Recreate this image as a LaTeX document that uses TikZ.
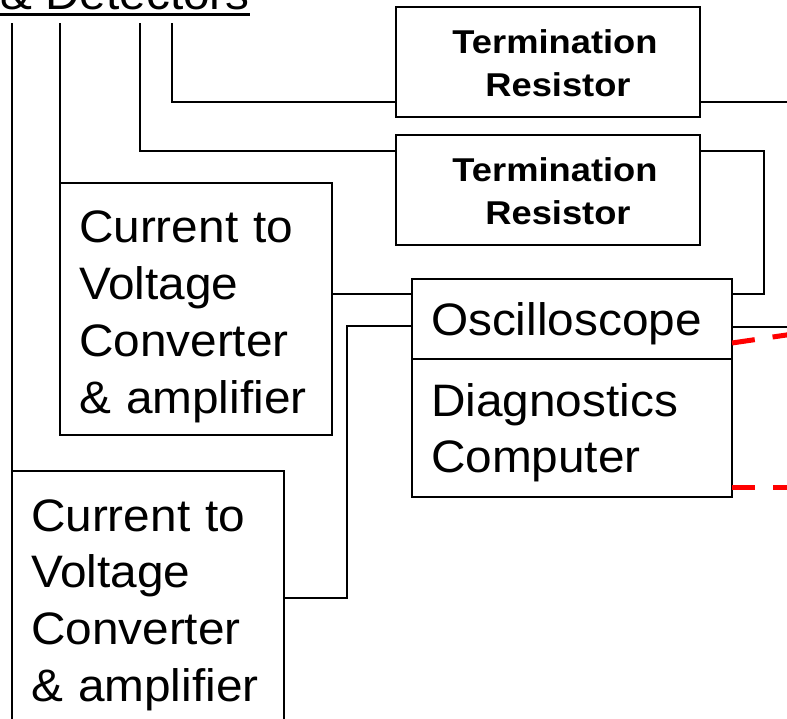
\documentclass[tikz,border=0pt]{standalone}
\usepackage{fontspec}
\setmainfont{Liberation Sans}
\newfontfamily\plainfont[FakeStretch=1.05]{Liberation Sans}
\newfontfamily\heavyfont[FakeStretch=1.1]{Liberation Sans Bold}
\usetikzlibrary{positioning, calc}
\definecolor{linkred}{RGB}{255, 0, 0}

% thick underline for the cut-off heading
\newcommand{\headline}[1]{\sbox0{#1}\rlap{\rule[-6.5pt]{\wd0}{3.5pt}}\usebox0}

\begin{document}
\begin{tikzpicture}[
    x=1pt, y=-1pt,
    font=\plainfont,
    wire/.style={line width=1.8pt, draw=black},
    redlink/.style={line width=5pt, draw=linkred, dash pattern=on 23pt off 18pt},
    termbox/.style={
        rectangle, draw, line width=1.5pt, outer sep=0pt,
        anchor=north west, align=center,
        text width=284pt, inner xsep=10pt, inner ysep=0pt,
        text height=47pt, text depth=63pt,
        font=\heavyfont\fontsize{33}{43}\selectfont,
    },
    convbox/.style={
        rectangle, draw, line width=1.5pt, outer sep=0pt,
        anchor=north west, align=left,
        text width=234pt, inner xsep=19pt, inner ysep=0pt,
        text height=60pt, text depth=192pt,
        font=\plainfont\fontsize{45.5}{56.7}\selectfont,
    },
    scopebox/.style 2 args={
        rectangle, draw, line width=1.5pt, outer sep=0pt,
        align=left,
        text width=282pt, inner xsep=19pt, inner ysep=0pt,
        text height=#1, text depth=#2,
        font=\plainfont\fontsize{45.5}{56.7}\selectfont,
    },
]
\useasboundingbox (0,0) rectangle (787,719);
\clip (0,0) rectangle (787,719);

% =================================================
% Heading (cut off at the top)
% =================================================
\node[anchor=base west, inner sep=0pt, text depth=13pt,
      font=\plainfont\fontsize{45.5}{56.7}\selectfont] (title) at (0,10)
    {\headline{\& Detectors}};

% =================================================
% Boxes
% =================================================
\node[termbox] (tr1) at (396,7)
    {\hspace*{14pt}Termination\\\hspace*{20pt}Resistor};
\node[termbox, below=18pt of tr1] (tr2)
    {\hspace*{14pt}Termination\\\hspace*{20pt}Resistor};

\node[convbox] (cv1) at (60,183) {Current to\\Voltage\\Converter\\\& amplifier};
\node[convbox] (cv2) at (12,471) {Current to\\Voltage\\Converter\\\& amplifier};

\node[scopebox={56pt}{24pt}, anchor=north west] (osc) at (412,279) {Oscilloscope};
\node[scopebox={57pt}{81pt}, below=0pt of osc] (diag) {Diagnostics\\Computer};

% =================================================
% Tap points
% =================================================
\coordinate (rim)   at (800,0);
\coordinate (farA)  at (800,333);
\coordinate (trA)   at ($(tr1.north east)+(0,95)$);
\coordinate (oscA)  at ($(osc.north west)+(0,15)$);
\coordinate (oscB)  at ($(osc.north west)+(0,47)$);
\coordinate (oscC)  at ($(osc.north east)+(0,15)$);
\coordinate (oscD)  at ($(osc.north east)+(0,48)$);
\coordinate (oscE)  at ($(osc.north east)+(0,64)$);
\coordinate (diagA) at ($(diag.south east)+(0,-10)$);

% =================================================
% Wires
% =================================================
\draw[wire] (title.south -| cv2.north west) -- (cv2.north west);
\draw[wire] (title.south -| cv1.north west) -- (cv1.north west);
\draw[wire] ([xshift=140pt]title.south west) |- ($(tr2.north west)+(0,16)$);
\draw[wire] ([xshift=172pt]title.south west) |- (trA -| tr1.west);

\draw[wire] (trA) -- (trA -| rim);
\draw[wire] ($(tr2.north east)+(0,16)$) -- ++(64,0) |- (oscC);

\draw[wire] (oscA) -- (oscA -| cv1.east);
\draw[wire] (oscB) -| ($(cv2.north east)+(63,0)$) |- ($(cv2.north east)+(0,127)$);

\draw[wire] (oscD) -- (oscD -| rim);

% =================================================
% Red links off the right edge
% =================================================
\draw[redlink] (oscE) -- (farA);
\draw[redlink] (diagA) -- (diagA -| rim);

\end{tikzpicture}
\end{document}
